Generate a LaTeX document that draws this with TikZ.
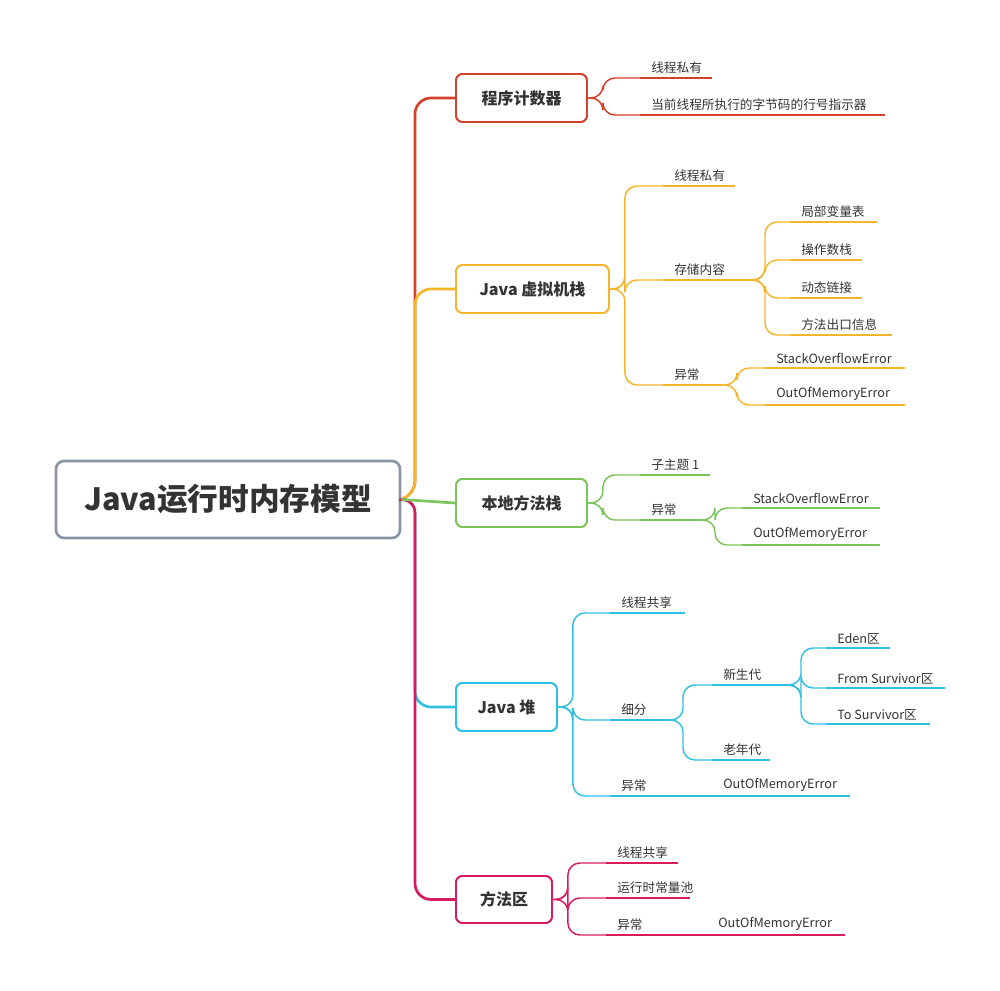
\documentclass[tikz,border=0pt]{standalone}
\usepackage{fontspec}
\setmainfont{Noto Sans CJK SC}
\definecolor{cA}{HTML}{D5402B}
\definecolor{cB}{HTML}{F4B52B}
\definecolor{cC}{HTML}{7AC45A}
\definecolor{cD}{HTML}{2FBFE0}
\definecolor{cE}{HTML}{D81B60}
\definecolor{tx}{HTML}{333333}
\definecolor{gr}{HTML}{8A94A6}
\tikzset{
  leaftext/.style={inner sep=0pt, font=\fontsize{9.5}{11}\selectfont, text=tx, anchor=south west},
  topic/.style={draw=#1, line width=1.4pt, rounded corners=5pt, fill=white, text=tx,
     font=\fontsize{12}{14}\selectfont\bfseries, inner sep=0pt},
  con/.style={draw=#1, line width=1.1pt, rounded corners=9pt},
  trunk/.style={draw=#1, line width=2pt, rounded corners=12pt}
}
\newcommand\leaf[6]{%
  \coordinate (#1s) at (#3,#5); \coordinate (#1e) at (#4,#5);
  \node[leaftext] (#1) at (#3+11,#5-4) {#6};
  \draw[con=#2] (#1s) -- (#1e);}
\begin{document}
\begin{tikzpicture}[x=0.75pt,y=-0.75pt]
\useasboundingbox (0,0) rectangle (1000,991);
% root
\node[draw=gr, line width=2pt, rounded corners=6pt, fill=white, text=tx,
  minimum width=344*0.75pt, minimum height=77*0.75pt, font=\fontsize{23}{26}\selectfont\bfseries]
  (root) at (228,499.5) {Java运行时内存模型};
% topics
\node[topic=cA, minimum width=131*0.75pt, minimum height=48*0.75pt] (t1) at (521.5,98) {程序计数器};
\node[topic=cB, minimum width=153*0.75pt, minimum height=48*0.75pt] (t2) at (532.5,289) {Java 虚拟机栈};
\node[topic=cC, minimum width=131*0.75pt, minimum height=48*0.75pt] (t3) at (521.5,503) {本地方法栈};
\node[topic=cD, minimum width=101*0.75pt, minimum height=48*0.75pt] (t4) at (506.5,707) {Java 堆};
\node[topic=cE, minimum width=96*0.75pt, minimum height=47*0.75pt] (t5) at (504,899.5) {方法区};
% trunk
\begin{scope}[on background layer/.style={}]
\draw[trunk=cA] (root.east) -- (415,497) |- (t1.west);
\draw[trunk=cB] (root.east) -- (415,497) |- (t2.west);
\draw[trunk=cD] (root.east) -- (415,497) |- (t4.west);
\draw[trunk=cE] (root.east) -- (415,497) |- (t5.west);
\draw[trunk=cC] (root.east) -- (t3.west);
\end{scope}
\node[topic=cA, minimum width=131*0.75pt, minimum height=48*0.75pt] at (t1) {程序计数器};
\node[topic=cB, minimum width=153*0.75pt, minimum height=48*0.75pt] at (t2) {Java 虚拟机栈};
\node[topic=cC, minimum width=131*0.75pt, minimum height=48*0.75pt] at (t3) {本地方法栈};
\node[topic=cD, minimum width=101*0.75pt, minimum height=48*0.75pt] at (t4) {Java 堆};
\node[topic=cE, minimum width=96*0.75pt, minimum height=47*0.75pt] at (t5) {方法区};
% branch 1
\leaf{a1}{cA}{640}{712}{78}{线程私有}
\leaf{a2}{cA}{640}{885}{115}{当前线程所执行的字节码的行号指示器}
\foreach \c in {a1,a2} \draw[con=cA] (t1.east) -- ++(15,0) |- (\c s);
% branch 2
\leaf{b1}{cB}{663}{735}{186}{线程私有}
\leaf{b2}{cB}{663}{750}{280}{存储内容}
\leaf{b3}{cB}{663}{722}{385}{异常}
\foreach \c in {b1,b2,b3} \draw[con=cB] (t2.east) -- ++(15,0) |- (\c s);
\leaf{b21}{cB}{790}{877}{222}{局部变量表}
\leaf{b22}{cB}{790}{862}{260}{操作数栈}
\leaf{b23}{cB}{790}{862}{298}{动态链接}
\leaf{b24}{cB}{790}{892}{335}{方法出口信息}
\foreach \c in {b21,b22,b23,b24} \draw[con=cB] (b2e) -- ++(15,0) |- (\c s);
\leaf{b31}{cB}{765}{905}{368}{StackOverflowError}
\leaf{b32}{cB}{765}{905}{405}{OutOfMemoryError}
\foreach \c in {b31,b32} \draw[con=cB] (b3e) -- ++(15,0) |- (\c s);
% branch 3
\leaf{c1}{cC}{640}{710}{475}{子主题 1}
\leaf{c2}{cC}{640}{700}{520}{异常}
\foreach \c in {c1,c2} \draw[con=cC] (t3.east) -- ++(15,0) |- (\c s);
\leaf{c21}{cC}{742}{880}{508}{StackOverflowError}
\leaf{c22}{cC}{742}{880}{545}{OutOfMemoryError}
\foreach \c in {c21,c22} \draw[con=cC] (c2e) -- ++(15,0) |- (\c s);
% branch 4
\leaf{d1}{cD}{610}{685}{613}{线程共享}
\leaf{d2}{cD}{610}{668}{720}{细分}
\leaf{d3}{cD}{610}{660}{796}{异常}
\foreach \c in {d1,d2,d3} \draw[con=cD] (t4.east) -- ++(15,0) |- (\c s);
\leaf{d21}{cD}{712}{786}{685}{新生代}
\leaf{d22}{cD}{712}{770}{760}{老年代}
\foreach \c in {d21,d22} \draw[con=cD] (d2e) -- ++(15,0) |- (\c s);
\leaf{d211}{cD}{826}{890}{648}{Eden区}
\leaf{d212}{cD}{826}{945}{688}{From Survivor区}
\leaf{d213}{cD}{826}{930}{724}{To Survivor区}
\foreach \c in {d211,d212,d213} \draw[con=cD] (d21e) -- ++(15,0) |- (\c s);
\leaf{d31}{cD}{712}{850}{796}{OutOfMemoryError}
\draw[con=cD] (d3e) -- (d31s);
% branch 5
\leaf{e1}{cE}{606}{678}{863}{线程共享}
\leaf{e2}{cE}{606}{690}{898}{运行时常量池}
\leaf{e3}{cE}{606}{652}{935}{异常}
\foreach \c in {e1,e2,e3} \draw[con=cE] (t5.east) -- ++(15,0) |- (\c s);
\leaf{e31}{cE}{707}{845}{935}{OutOfMemoryError}
\draw[con=cE] (e3e) -- (e31s);
\end{tikzpicture}
\end{document}
